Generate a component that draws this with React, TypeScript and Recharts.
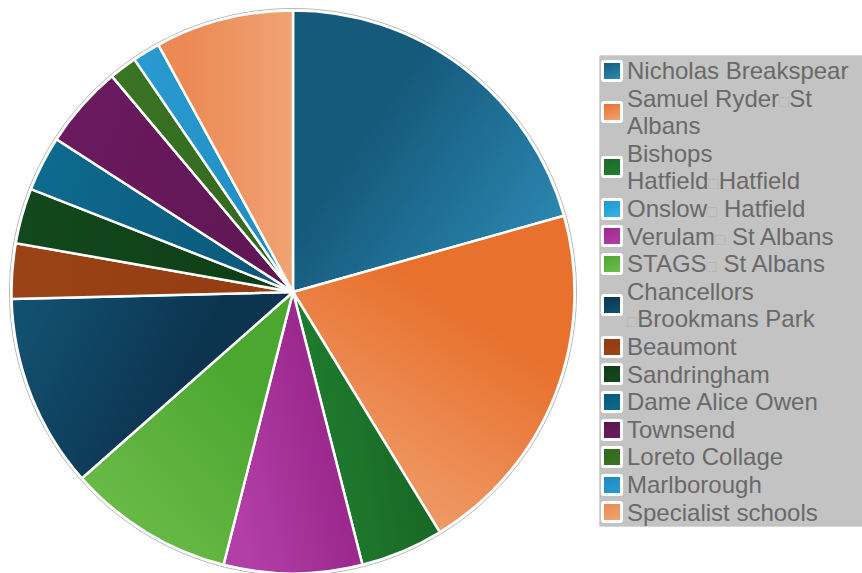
import React from "react";
import { PieChart, Pie, Cell, Legend } from "recharts";

const schools = [
  "Nicholas Breakspear",
  "Samuel Ryder□St Albans",
  "Bishops Hatfield□Hatfield",
  "Onslow□ Hatfield",
  "Verulam□ St Albans",
  "STAGS□ St Albans",
  "Chancellors □Brookmans Park",
  "Beaumont",
  "Sandringham",
  "Dame Alice Owen",
  "Townsend",
  "Loreto Collage",
  "Marlborough",
  "Specialist schools",
];

const pupils = [13, 13, 3, 0, 5, 6, 7, 2, 2, 2, 3, 1, 1, 5];

// [dark, light, x1, y1, x2, y2]
const gradients: [string, string, number, number, number, number][] = [
  ["#155a7b", "#2e8cb7", 0.3, 0.4, 1, 0.9],
  ["#e8712e", "#f0a474", 0.6, 0.3, 0.2, 1],
  ["#1a6a27", "#20802f", 0.7, 0.3, 0, 0.5],
  ["#1f97cf", "#35b4e8", 0, 0, 1, 1],
  ["#9c2a8e", "#b23fa5", 0.6, 0.3, 0, 0.6],
  ["#4ca731", "#6fbe4b", 0.6, 0.2, 0, 0.9],
  ["#0c344f", "#125070", 0.6, 0.5, 0, 0.3],
  ["#933c12", "#9a4316", 1, 0.5, 0, 0.5],
  ["#0f3d16", "#13481c", 1, 0.5, 0, 0.5],
  ["#0a587a", "#0e6a8f", 1, 0.5, 0, 0.3],
  ["#5f1653", "#6b1a60", 1, 0.7, 0, 0.3],
  ["#33671e", "#3a7424", 1, 0.5, 0, 0.5],
  ["#1d8bc1", "#2a9bd0", 1, 0.5, 0, 0.5],
  ["#eb8a55", "#f0a474", 0.2, 0.5, 1, 0.5],
];

const data = schools.map((name, i) => ({ name, value: pupils[i] }));
const ring = [{ name: "ring", value: 1 }];

function renderName(name: string) {
  const parts = name.split("□");
  const out: React.ReactNode[] = [];
  parts.forEach((p, i) => {
    if (i > 0)
      out.push(
        <span
          key={"b" + i}
          style={{ color: "#b4b4b4", fontSize: 17, lineHeight: "10px" }}
        >
          □
        </span>
      );
    out.push(<span key={"t" + i}>{p}</span>);
  });
  return out;
}

const LegendContent = () => (
  <div
    style={{
      background: "#c3c3c3",
      borderTop: "1px solid #d4d4d4",
      borderLeft: "1px solid #d4d4d4",
      borderBottom: "1px solid #d4d4d4",
      borderRadius: 2,
      width: 270,
      padding: "1px 0 0 0",
      boxSizing: "border-box",
    }}
  >
    {schools.map((s, i) => (
      <div
        key={s}
        style={{ display: "flex", alignItems: "center", lineHeight: "27.6px" }}
      >
        <div
          style={{
            width: 16,
            height: 16,
            border: "3px solid #ffffff",
            borderRadius: 3,
            marginLeft: 1,
            marginRight: 4,
            flex: "0 0 auto",
            background: `linear-gradient(160deg, ${gradients[i][0]}, ${gradients[i][1]})`,
          }}
        />
        <div
          style={{
            width: 234,
            fontFamily: "'Liberation Sans', Arial, sans-serif",
            fontSize: 24,
            lineHeight: "27.6px",
            color: "#696969",
          }}
        >
          {renderName(s)}
        </div>
      </div>
    ))}
  </div>
);

export default function App() {
  return (
    <div
      style={{
        position: "absolute",
        left: 0,
        top: 0,
        width: 862,
        height: 573,
        overflow: "hidden",
        background: "#ffffff",
      }}
    >
      <PieChart width={862} height={573} margin={{ top: 0, right: 0, bottom: 0, left: 0 }}>
        <defs>
          {gradients.map((g, i) => (
            <linearGradient key={i} id={`g${i}`} x1={g[2]} y1={g[3]} x2={g[4]} y2={g[5]}>
              <stop offset="0%" stopColor={g[0]} />
              <stop offset="100%" stopColor={g[1]} />
            </linearGradient>
          ))}
        </defs>
        <Pie
          data={ring}
          dataKey="value"
          cx={293}
          cy={292}
          outerRadius={283.5}
          innerRadius={0}
          fill="#ffffff"
          stroke="#b8b8b8"
          strokeWidth={1}
          isAnimationActive={false}
          legendType="none"
        />
        <Pie
          data={data}
          dataKey="value"
          nameKey="name"
          cx={293}
          cy={292}
          outerRadius={281.5}
          startAngle={90}
          endAngle={-270}
          stroke="#ffffff"
          strokeWidth={2.5}
          isAnimationActive={false}
        >
          {data.map((d, i) => (
            <Cell key={d.name} fill={`url(#g${i})`} />
          ))}
        </Pie>
        <Legend
          content={<LegendContent />}
          wrapperStyle={{ position: "absolute", left: 599, top: 55, width: 270 }}
        />
      </PieChart>
    </div>
  );
}
